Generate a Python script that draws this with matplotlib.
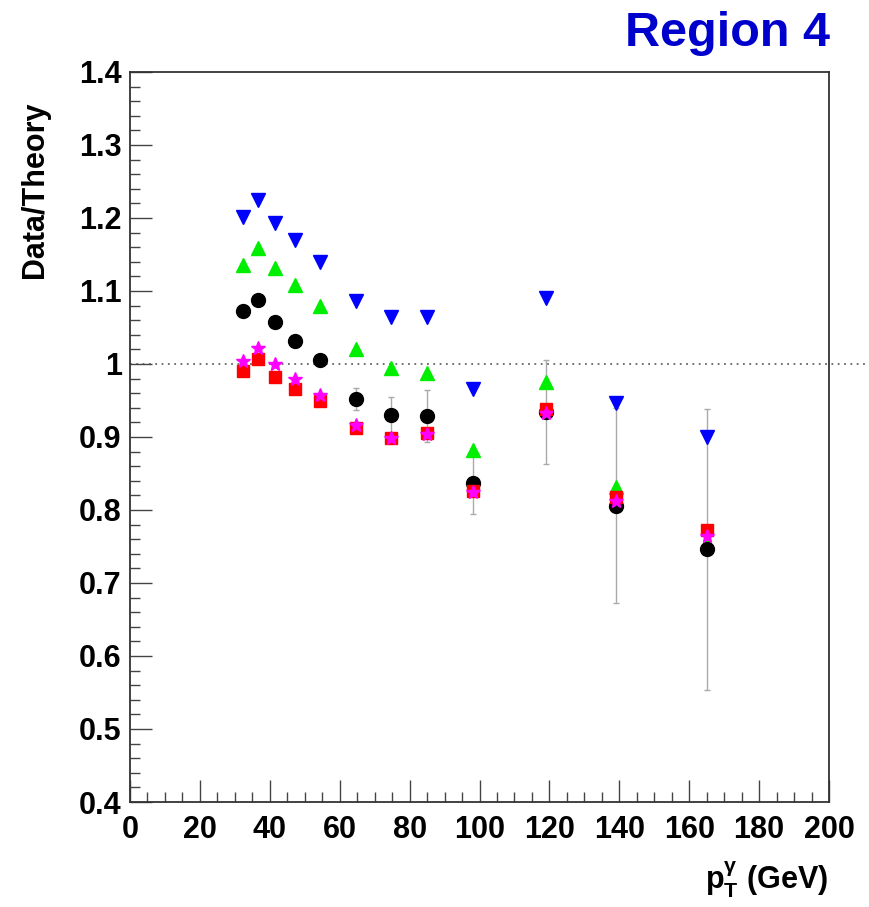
import numpy as np
import matplotlib
matplotlib.use('Agg')
import matplotlib.pyplot as plt
from matplotlib.ticker import MultipleLocator

plt.rcParams['font.family'] = ['Liberation Sans', 'DejaVu Sans']
plt.rcParams['font.weight'] = 'bold'
plt.rcParams['mathtext.fontset'] = 'custom'
plt.rcParams['mathtext.rm'] = 'Liberation Sans:bold'
plt.rcParams['mathtext.bf'] = 'Liberation Sans:bold'
plt.rcParams['mathtext.it'] = 'Liberation Sans:bold'

# photon pT bin centres (GeV)
pt = [32.2, 36.7, 41.6, 47.1, 54.4, 64.7, 74.6, 84.9, 98.0, 118.9, 139.0, 165.1]

# data/theory ratios for the different theory variants
ratio_black = [1.072, 1.087, 1.058, 1.032, 1.005, 0.952, 0.930, 0.929, 0.837, 0.934, 0.806, 0.746]
err_black = [0.004, 0.004, 0.005, 0.006, 0.008, 0.015, 0.025, 0.036, 0.042, 0.071, 0.134, 0.193]
ratio_blue = [1.202, 1.224, 1.193, 1.170, 1.140, 1.086, 1.064, 1.065, 0.966, 1.090, 0.946, 0.900]
ratio_green = [1.135, 1.159, 1.131, 1.108, 1.079, 1.021, 0.994, 0.987, 0.882, 0.975, 0.832, 0.755]
ratio_red = [0.990, 1.007, 0.982, 0.966, 0.949, 0.912, 0.899, 0.906, 0.826, 0.938, 0.818, 0.772]
ratio_magenta = [1.004, 1.022, 1.000, 0.979, 0.958, 0.916, 0.898, 0.904, 0.824, 0.933, 0.813, 0.764]

fig = plt.figure(figsize=(8.7, 9.07), dpi=100)
ax = fig.add_axes([130/870, 1 - 802/907, 699/870, 730/907])

# reference line at 1 (runs past the frame like in the original)
ax.plot([0, 212], [1, 1], color='#666666', lw=1.3, ls=(0, (1, 2.5)), clip_on=False, zorder=1)

# error bars
ax.errorbar(pt, ratio_black, yerr=err_black, fmt='none', ecolor='#aaaaaa',
            elinewidth=1, capsize=2.5, capthick=1, zorder=2)

ax.plot(pt, ratio_green, ls='none', marker='^', ms=10, color='#00ee00', mec='#00ee00', zorder=3)
ax.plot(pt, ratio_blue, ls='none', marker='v', ms=10, color='#0000ff', mec='#0000ff', zorder=4)
ax.plot(pt, ratio_black, ls='none', marker='o', ms=10, color='black', zorder=5)
ax.plot(pt, ratio_red, ls='none', marker='s', ms=8.5, color='#ff0000', mec='#ff0000', zorder=6)
ax.plot(pt, ratio_magenta, ls='none', marker='*', ms=10, color='#ff00ff', mec='#ff00ff', zorder=7)

# axes, ROOT style
ax.set_xlim(0, 200)
ax.set_ylim(0.4, 1.4)
ax.xaxis.set_major_locator(MultipleLocator(20))
ax.xaxis.set_minor_locator(MultipleLocator(5))
ax.yaxis.set_major_locator(MultipleLocator(0.1))
ax.yaxis.set_minor_locator(MultipleLocator(0.02))
ax.yaxis.set_major_formatter(matplotlib.ticker.FuncFormatter(lambda v, p: '{0:g}'.format(round(v, 2))))
ax.tick_params(which='both', direction='in', top=False, right=False, color='#444444', width=1)
ax.tick_params(which='major', length=15.5, labelsize=22)
ax.tick_params(which='minor', length=7.5)
ax.tick_params(axis='x', which='major', pad=9)
ax.tick_params(axis='y', which='major', pad=6)
for lab in ax.get_xticklabels() + ax.get_yticklabels():
    lab.set_fontweight('bold')
for s in ax.spines.values():
    s.set_color('#333333')
    s.set_linewidth(1.3)

fig.text(35/870, 1 - 102/907, 'Data/Theory', rotation=90, ha='center', va='top',
         fontsize=22, fontweight='bold')
fig.text(828/870, 1 - 880/907, r'p$_{\mathrm{T}}^{\gamma}$ (GeV)', ha='right', va='center',
         fontsize=22, fontweight='bold')
fig.text(830/870, 1 - 33/907, 'Region 4', ha='right', va='center',
         fontsize=35, fontweight='bold', color='#0000cc')

fig.savefig('out.png', dpi=100)
